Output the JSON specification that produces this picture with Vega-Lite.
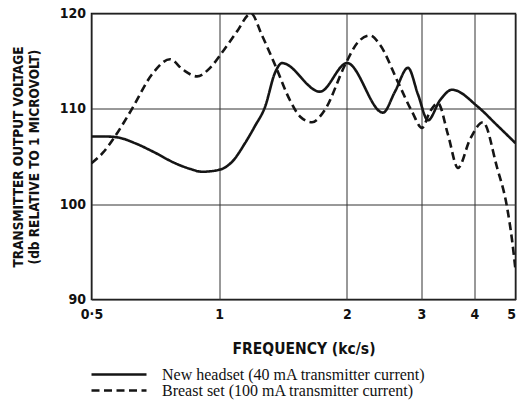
{
  "$schema": "https://vega.github.io/schema/vega-lite/v6.json",
  "width": 424,
  "height": 286,
  "autosize": {"type": "none"},
  "padding": {"left": 91.5, "top": 13.5, "right": 2.5, "bottom": 104.5},
  "background": "white",
  "config": {
    "view": {"stroke": "#111", "strokeWidth": 1.5},
    "axis": {"labelColor": "#111", "titleColor": "#111", "gridColor": "#333", "gridOpacity": 1, "gridWidth": 1}
  },
  "data": {
    "values": [
      {"series": "New headset (40 mA transmitter current)", "f": 0.5, "v": 107.1},
      {"series": "New headset (40 mA transmitter current)", "f": 0.538, "v": 107.1},
      {"series": "New headset (40 mA transmitter current)", "f": 0.577, "v": 107.0},
      {"series": "New headset (40 mA transmitter current)", "f": 0.633, "v": 106.4},
      {"series": "New headset (40 mA transmitter current)", "f": 0.706, "v": 105.4},
      {"series": "New headset (40 mA transmitter current)", "f": 0.787, "v": 104.3},
      {"series": "New headset (40 mA transmitter current)", "f": 0.854, "v": 103.7},
      {"series": "New headset (40 mA transmitter current)", "f": 0.911, "v": 103.4},
      {"series": "New headset (40 mA transmitter current)", "f": 1.0, "v": 103.6},
      {"series": "New headset (40 mA transmitter current)", "f": 1.073, "v": 104.45},
      {"series": "New headset (40 mA transmitter current)", "f": 1.151, "v": 106.4},
      {"series": "New headset (40 mA transmitter current)", "f": 1.215, "v": 108.2},
      {"series": "New headset (40 mA transmitter current)", "f": 1.283, "v": 110.2},
      {"series": "New headset (40 mA transmitter current)", "f": 1.355, "v": 113.8},
      {"series": "New headset (40 mA transmitter current)", "f": 1.407, "v": 114.8},
      {"series": "New headset (40 mA transmitter current)", "f": 1.729, "v": 111.8},
      {"series": "New headset (40 mA transmitter current)", "f": 2.003, "v": 114.8},
      {"series": "New headset (40 mA transmitter current)", "f": 2.435, "v": 109.6},
      {"series": "New headset (40 mA transmitter current)", "f": 2.598, "v": 111.8},
      {"series": "New headset (40 mA transmitter current)", "f": 2.789, "v": 114.3},
      {"series": "New headset (40 mA transmitter current)", "f": 2.945, "v": 111.5},
      {"series": "New headset (40 mA transmitter current)", "f": 3.109, "v": 108.8},
      {"series": "New headset (40 mA transmitter current)", "f": 3.318, "v": 110.9},
      {"series": "New headset (40 mA transmitter current)", "f": 3.543, "v": 112.0},
      {"series": "New headset (40 mA transmitter current)", "f": 4.08, "v": 110.2},
      {"series": "New headset (40 mA transmitter current)", "f": 4.52, "v": 108.3},
      {"series": "New headset (40 mA transmitter current)", "f": 5.0, "v": 106.4},
      {"series": "Breast set (100 mA transmitter current)", "f": 0.5, "v": 104.3},
      {"series": "Breast set (100 mA transmitter current)", "f": 0.532, "v": 105.4},
      {"series": "Breast set (100 mA transmitter current)", "f": 0.568, "v": 107.1},
      {"series": "Breast set (100 mA transmitter current)", "f": 0.623, "v": 110.0},
      {"series": "Breast set (100 mA transmitter current)", "f": 0.694, "v": 113.6},
      {"series": "Breast set (100 mA transmitter current)", "f": 0.766, "v": 115.2},
      {"series": "Breast set (100 mA transmitter current)", "f": 0.822, "v": 114.1},
      {"series": "Breast set (100 mA transmitter current)", "f": 0.887, "v": 113.4},
      {"series": "Breast set (100 mA transmitter current)", "f": 0.952, "v": 114.3},
      {"series": "Breast set (100 mA transmitter current)", "f": 1.016, "v": 115.9},
      {"series": "Breast set (100 mA transmitter current)", "f": 1.101, "v": 118.1},
      {"series": "Breast set (100 mA transmitter current)", "f": 1.189, "v": 120.0},
      {"series": "Breast set (100 mA transmitter current)", "f": 1.262, "v": 117.7},
      {"series": "Breast set (100 mA transmitter current)", "f": 1.355, "v": 114.6},
      {"series": "Breast set (100 mA transmitter current)", "f": 1.469, "v": 110.9},
      {"series": "Breast set (100 mA transmitter current)", "f": 1.551, "v": 109.2},
      {"series": "Breast set (100 mA transmitter current)", "f": 1.656, "v": 108.6},
      {"series": "Breast set (100 mA transmitter current)", "f": 1.776, "v": 109.9},
      {"series": "Breast set (100 mA transmitter current)", "f": 1.981, "v": 114.6},
      {"series": "Breast set (100 mA transmitter current)", "f": 2.126, "v": 117.0},
      {"series": "Breast set (100 mA transmitter current)", "f": 2.27, "v": 117.7},
      {"series": "Breast set (100 mA transmitter current)", "f": 2.396, "v": 116.7},
      {"series": "Breast set (100 mA transmitter current)", "f": 2.641, "v": 112.8},
      {"series": "Breast set (100 mA transmitter current)", "f": 2.851, "v": 109.7},
      {"series": "Breast set (100 mA transmitter current)", "f": 3.009, "v": 108.0},
      {"series": "Breast set (100 mA transmitter current)", "f": 3.142, "v": 109.7},
      {"series": "Breast set (100 mA transmitter current)", "f": 3.282, "v": 110.6},
      {"series": "Breast set (100 mA transmitter current)", "f": 3.465, "v": 107.3},
      {"series": "Breast set (100 mA transmitter current)", "f": 3.659, "v": 103.8},
      {"series": "Breast set (100 mA transmitter current)", "f": 3.905, "v": 106.8},
      {"series": "Breast set (100 mA transmitter current)", "f": 4.191, "v": 108.6},
      {"series": "Breast set (100 mA transmitter current)", "f": 4.52, "v": 103.9},
      {"series": "Breast set (100 mA transmitter current)", "f": 4.775, "v": 99.7},
      {"series": "Breast set (100 mA transmitter current)", "f": 4.905, "v": 96.3},
      {"series": "Breast set (100 mA transmitter current)", "f": 5.0, "v": 93.1}
    ]
  },
  "mark": {"type": "line", "interpolate": "monotone", "strokeWidth": 2.6, "color": "#151515", "clip": true},
  "encoding": {
    "x": {
      "field": "f",
      "type": "quantitative",
      "scale": {"type": "log", "domain": [0.5, 5]},
      "axis": {
        "values": [0.5, 1, 2, 3, 4, 5],
        "labelExpr": "datum.value == 0.5 ? '0·5' : format(datum.value, 'd')",
        "labelAlign": {"expr": "datum.value == 5 ? 'right' : 'center'"},
        "labelFont": "DejaVu Sans Condensed, Liberation Sans",
        "labelFontWeight": "bold",
        "labelFontSize": 14,
        "labelPadding": 8,
        "labelFlush": false,
        "ticks": false,
        "domain": false,
        "grid": true,
        "title": "FREQUENCY (kc/s)",
        "titleFont": "DejaVu Sans Condensed, Liberation Sans",
        "titleFontWeight": "bold",
        "titleFontSize": 15.5,
        "titlePadding": 20
      }
    },
    "y": {
      "field": "v",
      "type": "quantitative",
      "scale": {"domain": [90, 120], "nice": false, "zero": false},
      "axis": {
        "values": [90, 100, 110, 120],
        "labelFont": "DejaVu Sans Condensed, Liberation Sans",
        "labelFontWeight": "bold",
        "labelFontSize": 14,
        "labelPadding": 6,
        "labelFlush": false,
        "ticks": false,
        "domain": false,
        "grid": true,
        "title": ["TRANSMITTER OUTPUT VOLTAGE", "(db RELATIVE TO 1 MICROVOLT)"],
        "titleFont": "DejaVu Sans Condensed, Liberation Sans",
        "titleFontWeight": "bold",
        "titleFontSize": 13.5,
        "titleLineHeight": 16,
        "titlePadding": 18
      }
    },
    "strokeDash": {
      "field": "series",
      "type": "nominal",
      "scale": {
        "domain": ["New headset (40 mA transmitter current)", "Breast set (100 mA transmitter current)"],
        "range": [[1, 0], [8, 4.5]]
      },
      "legend": {
        "orient": "none",
        "legendX": -1.5,
        "legendY": 353,
        "title": null,
        "symbolType": "stroke",
        "symbolSize": 3025,
        "symbolStrokeWidth": 2.6,
        "symbolStrokeColor": "#151515",
        "clipHeight": 16,
        "rowPadding": 0,
        "labelFont": "Liberation Serif",
        "labelFontSize": 16,
        "labelColor": "#111",
        "labelOffset": 14,
        "labelLimit": 400
      }
    }
  }
}
